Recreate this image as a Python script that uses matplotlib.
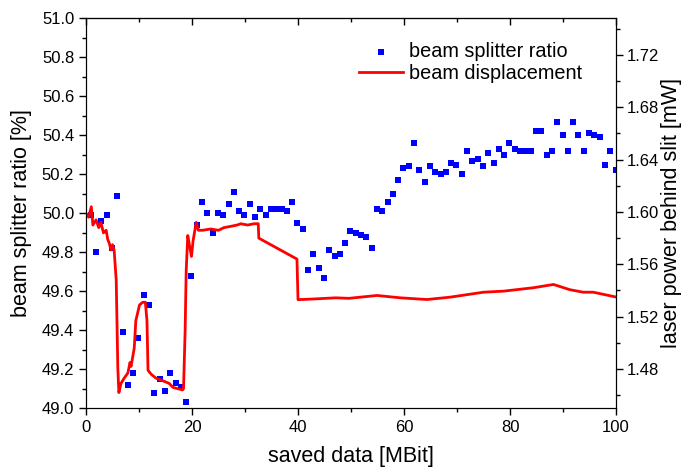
import matplotlib
matplotlib.use("Agg")
import matplotlib.pyplot as plt
from matplotlib.ticker import MultipleLocator, FormatStrFormatter

plt.rcParams['font.family'] = ['Liberation Sans', 'DejaVu Sans']

# beam splitter ratio (left axis, %)
ratio_x = [0.9, 1.9, 2.9, 3.9, 4.9, 5.9, 6.9, 7.9, 8.9, 9.9,
           10.9, 11.9, 12.9, 13.9, 14.9, 15.9, 16.9, 17.9, 18.9, 19.9,
           20.9, 21.9, 22.9, 23.9, 24.9, 25.9, 26.9, 27.9, 28.9, 29.9,
           30.9, 31.9, 32.9, 33.9, 34.9, 35.9, 36.9, 37.9, 38.9, 39.9,
           40.9, 41.9, 42.9, 43.9, 44.9, 45.9, 46.9, 47.9, 48.9, 49.9,
           50.9, 51.9, 52.9, 53.9, 54.9, 55.9, 56.9, 57.9, 58.9, 59.9,
           60.9, 61.9, 62.9, 63.9, 64.9, 65.9, 66.9, 67.9, 68.9, 69.9,
           70.9, 71.9, 72.9, 73.9, 74.9, 75.9, 76.9, 77.9, 78.9, 79.9,
           80.9, 81.9, 82.9, 83.9, 84.9, 85.9, 86.9, 87.9, 88.9, 89.9,
           90.9, 91.9, 92.9, 93.9, 94.9, 95.9, 96.9, 97.9, 98.9, 99.9]
ratio_y = [49.99, 49.80, 49.96, 49.99, 49.82, 50.09, 49.39, 49.12, 49.18, 49.36,
           49.58, 49.53, 49.08, 49.15, 49.09, 49.18, 49.13, 49.11, 49.03, 49.68,
           49.94, 50.06, 50.00, 49.90, 50.00, 49.99, 50.05, 50.11, 50.01, 49.99,
           50.05, 49.98, 50.02, 49.99, 50.02, 50.02, 50.02, 50.01, 50.06, 49.95,
           49.92, 49.71, 49.79, 49.72, 49.67, 49.81, 49.78, 49.79, 49.85, 49.91,
           49.90, 49.89, 49.88, 49.82, 50.02, 50.01, 50.06, 50.10, 50.17, 50.23,
           50.24, 50.36, 50.22, 50.16, 50.24, 50.21, 50.20, 50.21, 50.26, 50.25,
           50.20, 50.32, 50.27, 50.28, 50.24, 50.31, 50.26, 50.33, 50.30, 50.36,
           50.33, 50.32, 50.32, 50.32, 50.42, 50.42, 50.30, 50.32, 50.47, 50.40,
           50.32, 50.47, 50.40, 50.32, 50.41, 50.40, 50.39, 50.25, 50.32, 50.22]

# beam displacement (right axis, laser power behind slit, mW)
disp_x = [0.0, 0.5, 1.0, 1.3, 1.9, 2.4, 2.8, 3.3, 3.8, 4.1, 4.4, 4.7, 5.0, 5.3,
          5.7, 6.0, 6.2, 6.6, 7.2, 7.9, 8.3, 8.5, 9.1, 9.4, 10.1, 10.7, 11.2,
          11.5, 11.7, 12.3, 13.2, 14.5, 15.7, 16.4, 17.3, 18.2, 18.4, 18.7,
          18.9, 19.2, 19.5, 19.9, 20.2, 20.8, 21.2, 22.0, 23.5, 25.0, 26.0,
          27.3, 28.5, 29.2, 30.5, 31.7, 32.5, 32.6, 39.8, 40.0, 43.4, 47.1,
          49.6, 54.9, 59.3, 64.3, 68.7, 75.0, 78.8, 84.4, 88.2, 91.3, 93.8,
          95.7, 100.0]
disp_y = [1.599, 1.596, 1.604, 1.590, 1.594, 1.588, 1.592, 1.584, 1.586, 1.579,
          1.576, 1.571, 1.575, 1.571, 1.548, 1.481, 1.462, 1.469, 1.473, 1.477,
          1.485, 1.482, 1.496, 1.517, 1.529, 1.531, 1.531, 1.517, 1.479, 1.476,
          1.473, 1.471, 1.469, 1.466, 1.465, 1.464, 1.465, 1.509, 1.555, 1.582,
          1.575, 1.566, 1.578, 1.592, 1.586, 1.586, 1.587, 1.586, 1.588, 1.589,
          1.590, 1.591, 1.590, 1.591, 1.591, 1.580, 1.564, 1.533, 1.5336, 1.5344,
          1.534, 1.5362, 1.5344, 1.5331, 1.5349, 1.5387, 1.5395, 1.5421, 1.5446,
          1.5406, 1.5387, 1.5387, 1.535]

fig = plt.figure(figsize=(6.81, 4.68), dpi=100)
ax = fig.add_axes([0.1263, 0.1276, 0.7783, 0.8334])
ax2 = ax.twinx()

sc = ax.scatter(ratio_x, ratio_y, marker='s', s=14, color='#0000ff',
                linewidths=0, label='beam splitter ratio', zorder=3)
ln, = ax2.plot(disp_x, disp_y, color='#ff0000', lw=2.0, label='beam displacement')

ax.set_xlim(0, 100)
ax.set_ylim(49.0, 51.0)
ax2.set_ylim(1.45, 1.748)

ax.xaxis.set_major_locator(MultipleLocator(20))
ax.xaxis.set_minor_locator(MultipleLocator(10))
ax.yaxis.set_major_locator(MultipleLocator(0.2))
ax.yaxis.set_minor_locator(MultipleLocator(0.1))
ax.yaxis.set_major_formatter(FormatStrFormatter('%.1f'))
ax2.yaxis.set_major_locator(MultipleLocator(0.04))
ax2.yaxis.set_minor_locator(MultipleLocator(0.02))
ax2.yaxis.set_major_formatter(FormatStrFormatter('%.2f'))

ax.tick_params(axis='both', which='major', labelsize=12, length=5, width=1, direction='out')
ax.tick_params(axis='both', which='minor', length=3, width=1, direction='out')
ax2.tick_params(axis='y', which='major', labelsize=12, length=5, width=1, direction='out', pad=3)
ax2.tick_params(axis='y', which='minor', length=3, width=1, direction='out')

# inward ticks on the top edge
top = ax.secondary_xaxis('top')
top.xaxis.set_major_locator(MultipleLocator(20))
top.xaxis.set_minor_locator(MultipleLocator(10))
top.tick_params(axis='x', which='major', direction='in', length=5, width=1, labeltop=False)
top.tick_params(axis='x', which='minor', direction='in', length=3, width=1)

ax.set_xlabel('saved data [MBit]', fontsize=15.5, labelpad=8)
ax.set_ylabel('beam splitter ratio [%]', fontsize=15.5, labelpad=7)
ax2.set_ylabel('laser power behind slit [mW]', fontsize=15.5, labelpad=1)

ax2.legend([sc, ln], ['beam splitter ratio', 'beam displacement'],
           loc='upper left', bbox_to_anchor=(0.5, 0.959), frameon=False,
           fontsize=14.3, handlelength=2.2, handletextpad=0.3, labelspacing=0.15,
           borderaxespad=0.0)

fig.savefig('out.png', dpi=100)
